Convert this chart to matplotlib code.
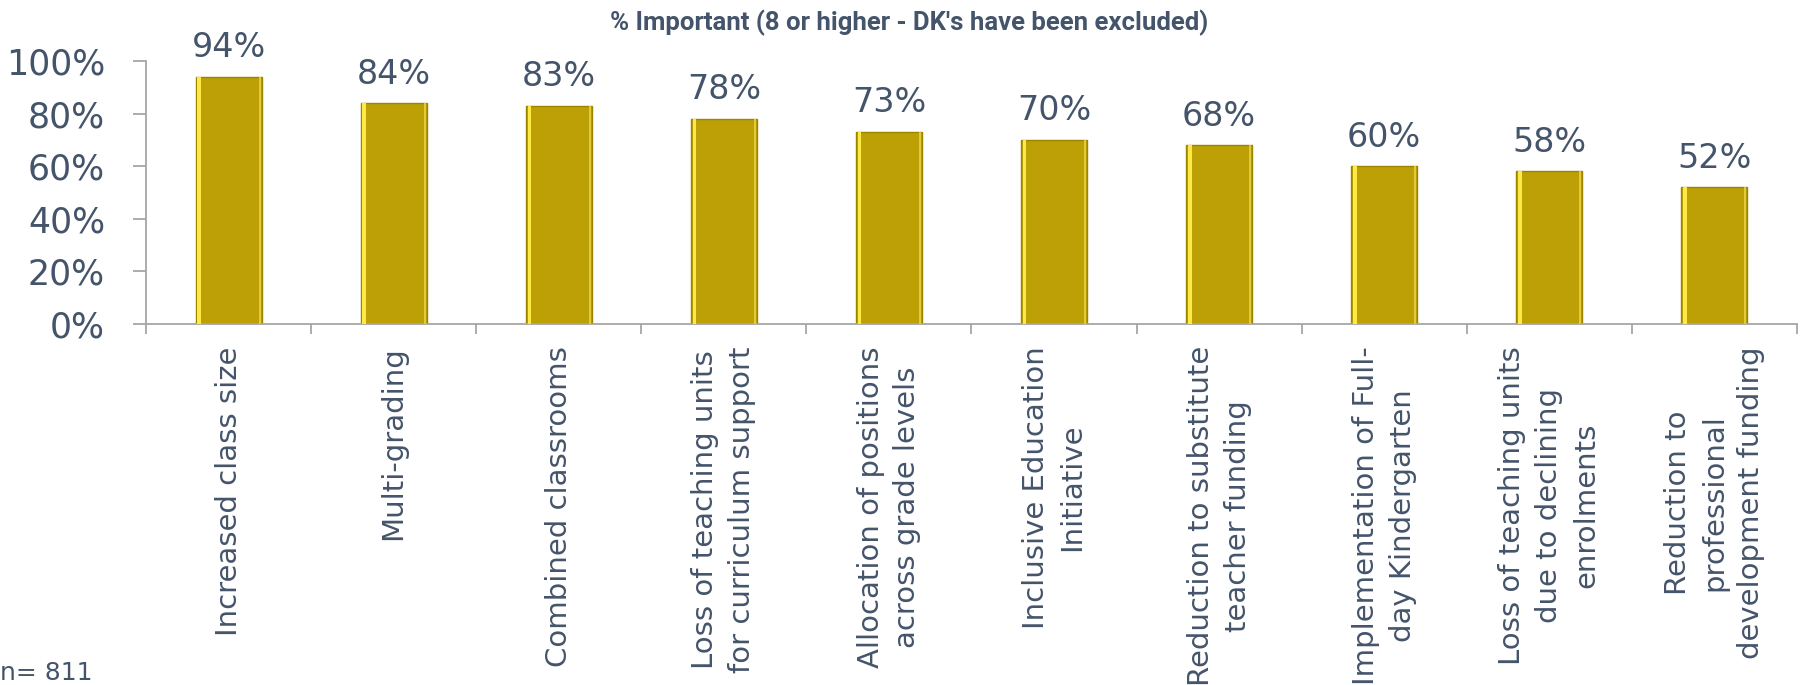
import numpy as np
import matplotlib
matplotlib.use("Agg")
import matplotlib.pyplot as plt
from matplotlib.ticker import FixedLocator, PercentFormatter

categories = [
    "Increased class size",
    "Multi-grading",
    "Combined classrooms",
    "Loss of teaching units\nfor curriculum support",
    "Allocation of positions\nacross grade levels",
    "Inclusive Education\nInitiative",
    "Reduction to substitute\nteacher funding",
    "Implementation of Full-\nday Kindergarten",
    "Loss of teaching units\ndue to declining\nenrolments",
    "Reduction to\nprofessional\ndevelopment funding",
]
values = [94, 84, 83, 78, 73, 70, 68, 60, 58, 52]
value_labels = ["94%", "84%", "83%", "78%", "73%", "70%", "68%", "60%", "58%", "52%"]
yticks = [0, 20, 40, 60, 80, 100]
subtitle = "% Important (8 or higher - DK's have been excluded)"
note = "n= 811"

TEXT = "#44546A"
AXIS = "#A6A6A6"
GOLD = "#BDA006"

plt.rcParams['font.family'] = ['DejaVu Sans']

fig = plt.figure(figsize=(18, 6.85), dpi=100)
ax = fig.add_axes([0.0811, 0.527, 0.9172, 0.384])

x = np.arange(len(categories))
w = 0.4
bars = ax.bar(x, values, width=w, color=GOLD, edgecolor="#9A8400", linewidth=1.0, zorder=2)
# bevel highlights
ax.bar(x - w / 2 + 0.022, values, width=0.022, color="#FFEA45", linewidth=0, zorder=3)
ax.bar(x + w / 2 - 0.012, values, width=0.012, color="#E2CB3A", linewidth=0, zorder=3)

ax.bar_label(bars, labels=value_labels, padding=9, fontsize=24, color=TEXT)

ax.set_xlim(-0.5, len(categories) - 0.5)
ax.set_ylim(0, 100)
ax.yaxis.set_major_locator(FixedLocator(yticks))
ax.yaxis.set_major_formatter(PercentFormatter(decimals=0))
ax.tick_params(axis='y', labelsize=25, labelcolor=TEXT, color=AXIS, length=9.5, width=1.3, pad=20)

ax.set_xticks(x)
ax.set_xticklabels(categories, rotation=90, ha='center', va='top', multialignment='center',
                   fontsize=21, color=TEXT, linespacing=1.4)
ax.tick_params(axis='x', which='major', length=0, pad=16)
ax.set_xticks(np.arange(len(categories) + 1) - 0.5, minor=True)
ax.tick_params(axis='x', which='minor', length=7.5, width=1.3, color=AXIS)

for s in ['top', 'right']:
    ax.spines[s].set_visible(False)
for s in ['left', 'bottom']:
    ax.spines[s].set_color(AXIS)
    ax.spines[s].set_linewidth(1.3)

fig.text(0.505, 0.966, subtitle, ha='center', va='center', fontsize=18.5, fontweight='bold',
         color=TEXT, family=['Roboto', 'DejaVu Sans'])
fig.text(0.0, 0.0, note, ha='left', va='bottom', fontsize=18, color=TEXT)

fig.savefig("out.png", dpi=100)
